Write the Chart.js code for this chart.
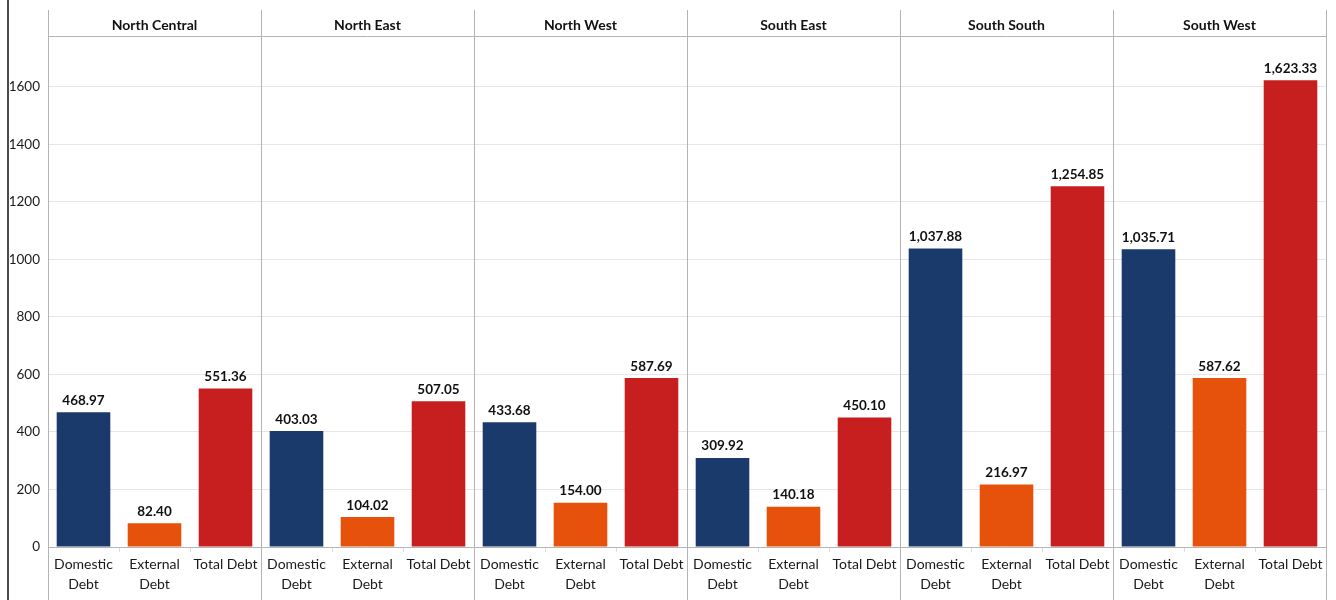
<!DOCTYPE html>
<html>
<head>
<meta charset="utf-8">
<script src="https://cdn.jsdelivr.net/npm/chart.js@4.4.1/dist/chart.umd.min.js"></script>
<style>
  html, body { margin: 0; padding: 0; background: #fff; }
</style>
</head>
<body>
<canvas id="debtChart" width="1336" height="600"></canvas>
<script>
const regions = ['North Central', 'North East', 'North West', 'South East', 'South South', 'South West'];
const debtTypes = [['Domestic', 'Debt'], ['External', 'Debt'], 'Total Debt'];
const domesticDebt = [468.97, 403.03, 433.68, 309.92, 1037.88, 1035.71];
const externalDebt = [82.40, 104.02, 154.00, 140.18, 216.97, 587.62];
const totalDebt = [551.36, 507.05, 587.69, 450.10, 1254.85, 1623.33];
const yTicks = [0, 200, 400, 600, 800, 1000, 1200, 1400, 1600];
const typeColors = ['#1b3a6c', '#e6520b', '#c71f1f'];

// one bar per (region, debt type), laid out region by region
const labels = [];
const values = [];
const colors = [];
regions.forEach((region, i) => {
  [domesticDebt, externalDebt, totalDebt].forEach((series, j) => {
    labels.push(debtTypes[j]);
    values.push(series[i]);
    colors.push(typeColors[j]);
  });
});

Chart.defaults.font.family = 'Lato';
Chart.defaults.color = '#222';

function formatValue(v) {
  return v.toLocaleString('en-US', { minimumFractionDigits: 2, maximumFractionDigits: 2 });
}

// value text above each bar
const valueLabels = {
  id: 'valueLabels',
  afterDatasetsDraw(chart) {
    const ctx = chart.ctx;
    const meta = chart.getDatasetMeta(0);
    ctx.save();
    ctx.font = 'bold 13.5px Lato';
    ctx.fillStyle = '#111';
    ctx.textAlign = 'center';
    ctx.textBaseline = 'bottom';
    meta.data.forEach((bar, i) => {
      ctx.fillText(formatValue(values[i]), bar.x, bar.y - 5);
    });
    ctx.restore();
  }
};

// region panels: separators, header strip and titles
const panels = {
  id: 'panels',
  afterDraw(chart) {
    const { ctx, chartArea } = chart;
    const x = chart.scales.x;
    const per = debtTypes.length;
    const edges = [chartArea.left];
    for (let i = 1; i < regions.length; i++) {
      edges.push((x.getPixelForValue(i * per - 1) + x.getPixelForValue(i * per)) / 2);
    }
    edges.push(chartArea.right);

    const headerTop = chartArea.top - 26;
    ctx.save();
    ctx.strokeStyle = '#b4b4b4';
    ctx.lineWidth = 1;
    edges.forEach(px => {
      const xx = Math.round(px) + 0.5;
      ctx.beginPath();
      ctx.moveTo(xx, headerTop);
      ctx.lineTo(xx, chart.height);
      ctx.stroke();
    });
    ctx.beginPath();
    ctx.moveTo(chartArea.left, chartArea.top + 0.5);
    ctx.lineTo(chartArea.right, chartArea.top + 0.5);
    ctx.stroke();

    ctx.font = 'bold 14px Lato';
    ctx.fillStyle = '#111';
    ctx.textAlign = 'center';
    ctx.textBaseline = 'middle';
    regions.forEach((region, i) => {
      ctx.fillText(region, (edges[i] + edges[i + 1]) / 2, chartArea.top - 11);
    });

    ctx.fillStyle = '#4a4a4a';
    ctx.fillRect(7, 0, 2, chart.height);
    ctx.restore();
  }
};

new Chart(document.getElementById('debtChart'), {
  type: 'bar',
  data: {
    labels: labels,
    datasets: [{
      data: values,
      backgroundColor: colors,
      barPercentage: 0.755,
      categoryPercentage: 1.0
    }]
  },
  options: {
    responsive: false,
    animation: false,
    layout: { padding: { top: 36, right: 10, left: 0, bottom: 0 } },
    plugins: {
      legend: { display: false },
      tooltip: { enabled: false }
    },
    scales: {
      x: {
        afterFit: s => { s.height = 53; },
        border: { color: '#b4b4b4' },
        grid: { offset: true, drawOnChartArea: false, tickLength: 5, color: '#dcdcdc' },
        ticks: {
          autoSkip: false,
          maxRotation: 0,
          padding: 3,
          font: { size: 14, lineHeight: 1.4 },
          color: '#1a1a1a'
        }
      },
      y: {
        min: 0,
        max: 1777,
        afterFit: s => { s.width = 48; },
        afterBuildTicks: s => { s.ticks = yTicks.map(v => ({ value: v })); },
        border: { display: false },
        grid: { color: '#e6e6e6', drawTicks: false },
        ticks: {
          padding: 8,
          font: { size: 13.5 },
          color: '#1a1a1a',
          callback: v => String(v)
        }
      }
    }
  },
  plugins: [valueLabels, panels]
});
</script>
</body>
</html>
